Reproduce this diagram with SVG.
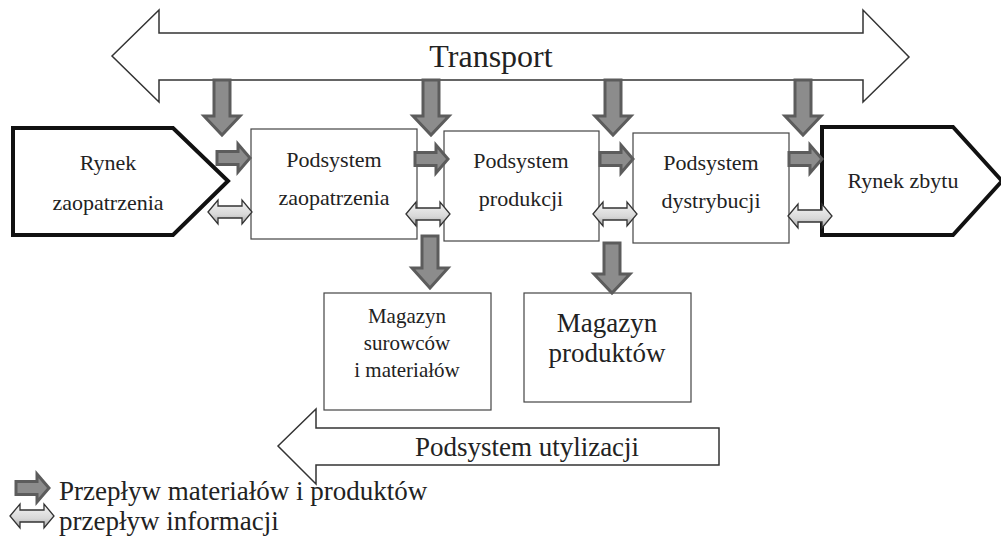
<svg xmlns="http://www.w3.org/2000/svg" width="1001" height="547" viewBox="0 0 1001 547">
<style>
text{font-family:"Liberation Serif","Times New Roman",serif;fill:#222;text-anchor:middle}
.box{fill:#fff;stroke:#444;stroke-width:1.2}
.mk{fill:#fff;stroke:#111;stroke-width:4;stroke-linejoin:miter}
.big{fill:#fff;stroke:#333;stroke-width:1.5}
.mat{fill:#8c8c8c;stroke:#5c5c5c;stroke-width:3;stroke-linejoin:miter}
.inf{fill:url(#g);stroke:#333;stroke-width:1.3}
</style>
<defs>
<linearGradient id="g" x1="0" y1="0" x2="0" y2="1">
<stop offset="0" stop-color="#f4f4f4"/><stop offset="0.6" stop-color="#d8d8d8"/><stop offset="1" stop-color="#a8a8a8"/>
</linearGradient>
<polygon id="dbl" points="-22,0 -12,-12 -12,-6 12,-6 12,-12 22,0 12,12 12,6 -12,6 -12,12" class="inf"/>
<polygon id="rt" points="0,-6.5 21,-6.5 21,-14 33,0 21,14 21,6.5 0,6.5" class="mat"/>
<polygon id="dn" points="-8,0 8,0 8,36 18,36 0,55 -18,36 -8,36" class="mat"/>
</defs>

<g id="transport">
<polygon class="big" points="112,56 159,10 159,33 863,33 863,10 909,57 863,102 863,80 159,80 159,102"/>
<text x="491" y="67" font-size="32">Transport</text>
</g>

<g id="rynek-zaopatrzenia">
<polygon class="mk" points="13,128 173,128 228,181 173,235 13,235"/>
<text x="108" y="170" font-size="22">Rynek</text>
<text x="108" y="210" font-size="22">zaopatrzenia</text>
</g>

<g id="podsystem-zaopatrzenia">
<rect class="box" x="251" y="129" width="166" height="110"/>
<text x="334" y="167" font-size="22">Podsystem</text>
<text x="334" y="205" font-size="22">zaopatrzenia</text>
</g>

<g id="podsystem-produkcji">
<rect class="box" x="444" y="131" width="155" height="110"/>
<text x="521" y="168" font-size="22">Podsystem</text>
<text x="521" y="206" font-size="22">produkcji</text>
</g>

<g id="podsystem-dystrybucji">
<rect class="box" x="633" y="133" width="156" height="110"/>
<text x="711" y="170" font-size="22">Podsystem</text>
<text x="711" y="208" font-size="22">dystrybucji</text>
</g>

<g id="rynek-zbytu">
<polygon class="mk" points="822,127 953,127 1002,181 953,235 822,235"/>
<text x="903" y="188" font-size="22">Rynek zbytu</text>
</g>

<g id="magazyn-surowcow">
<rect class="box" x="324" y="293" width="167" height="117"/>
<text x="407" y="323" font-size="21">Magazyn</text>
<text x="407" y="350" font-size="21">surowców</text>
<text x="407" y="377" font-size="21">i materiałów</text>
</g>

<g id="magazyn-produktow">
<rect class="box" x="524" y="293" width="167" height="109"/>
<text x="607" y="332" font-size="27">Magazyn</text>
<text x="607" y="362" font-size="27">produktów</text>
</g>

<g id="podsystem-utylizacji">
<polygon class="big" points="278,446 316,409 316,428 719,428 719,465 316,465 316,484"/>
<text x="527" y="456" font-size="27">Podsystem utylizacji</text>
</g>

<g id="connectors">
<use href="#dn" x="222" y="80"/>
<use href="#dn" x="431" y="80"/>
<use href="#dn" x="613" y="80"/>
<use href="#dn" x="803" y="80"/>
<use href="#rt" x="217" y="158"/>
<use href="#rt" x="415" y="159"/>
<use href="#rt" x="600" y="159"/>
<use href="#rt" x="789" y="159"/>
<polygon class="mat" points="422,236 438,236 438,268 448,268 430,288 412,268 422,268"/>
<polygon class="mat" points="604,243 620,243 620,274 630,274 612,293 594,274 604,274"/>
<use href="#dbl" x="230" y="212"/>
<use href="#dbl" x="428" y="214"/>
<use href="#dbl" x="615" y="214"/>
<use href="#dbl" x="810" y="216"/>
</g>

<g id="legend">
<use href="#rt" x="16" y="488"/>
<use href="#dbl" x="32" y="516"/>
<text x="59" y="500" font-size="27" style="text-anchor:start">Przepływ materiałów i produktów</text>
<text x="59" y="530" font-size="27" style="text-anchor:start">przepływ informacji</text>
</g>
</svg>
